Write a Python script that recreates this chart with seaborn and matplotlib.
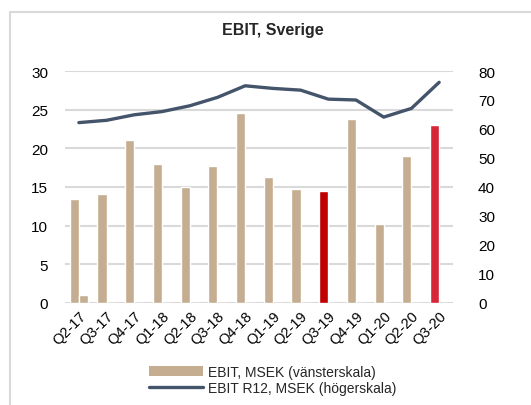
import numpy as np
import pandas as pd
import seaborn as sns
import matplotlib
matplotlib.use("Agg")
import matplotlib.pyplot as plt
from matplotlib.patches import Rectangle, Patch
from matplotlib.lines import Line2D

quarters = ["Q2-17", "Q3-17", "Q4-17", "Q1-18", "Q2-18", "Q3-18", "Q4-18",
            "Q1-19", "Q2-19", "Q3-19", "Q4-19", "Q1-20", "Q2-20", "Q3-20"]
ebit = [13.5, 14.1, 21.1, 18.0, 15.0, 17.7, 24.6, 16.3, 14.8, 14.5, 23.8, 10.2, 19.0, 23.0]
extra = [1.0, 0, 0, 0, 0, 0, 0, 0, 0, 0, 0, 0, 0, 0]
ebit_r12 = [62.2, 63.0, 64.9, 66.0, 68.0, 70.9, 74.9, 74.0, 73.4, 70.3, 70.0, 64.1, 67.1, 76.1]
left_ticks = [0, 5, 10, 15, 20, 25, 30]
right_ticks = [0, 10, 20, 30, 40, 50, 60, 70, 80]

TAN = "#C4AD91"
DARKRED = "#C00000"
RED = "#D72638"
LINE = "#44546A"
GRID = "#D9D9D9"

sns.set_theme(style="white")
plt.rcParams['font.family'] = ['Liberation Sans', 'DejaVu Sans']

fig = plt.figure(figsize=(5.31, 4.06), dpi=100)
ax = fig.add_axes([65/531, 1-304/406, (453-65)/531, (304-72)/406])

df = pd.DataFrame({
    "quarter": quarters * 2,
    "value": ebit + extra,
    "series": ["EBIT"] * len(quarters) + ["extra"] * len(quarters),
})
sns.barplot(data=df, x="quarter", y="value", hue="series", order=quarters,
            palette=[TAN, TAN], width=0.66, dodge=True, ax=ax, legend=False,
            saturation=1)
for i, p in enumerate(ax.containers[0]):
    if quarters[i] == "Q3-19":
        p.set_facecolor(DARKRED)
    elif quarters[i] == "Q3-20":
        p.set_facecolor(RED)

ax.set_ylim(0, 30)
ax.set_yticks(left_ticks)
ax.set_xlim(-0.5, len(quarters) - 0.5)
ax.yaxis.grid(True, color=GRID, linewidth=1.5)
ax.set_axisbelow(True)
for s in ax.spines.values():
    s.set_visible(False)
ax.axhline(0, color=GRID, linewidth=2, zorder=0.5)
ax.set_xlabel("")
ax.set_ylabel("")
ax.tick_params(axis="y", length=0, pad=12, labelsize=11, colors="black")
ax.tick_params(axis="x", length=0, pad=4, labelsize=10.5, colors="black")
plt.setp(ax.get_xticklabels(), rotation=45, ha="right", rotation_mode="anchor")

ax2 = ax.twinx()
sns.lineplot(x=np.arange(len(quarters)), y=ebit_r12, ax=ax2, color=LINE,
             linewidth=2.4, sort=False)
ax2.set_ylim(0, 80)
ax2.set_yticks(right_ticks)
ax2.set_xlim(-0.5, len(quarters) - 0.5)
for s in ax2.spines.values():
    s.set_visible(False)
ax2.tick_params(axis="y", length=0, pad=18, labelsize=11, colors="black")
ax2.grid(False)

fig.text(273/531, 1-30/406, "EBIT, Sverige", ha="center", va="center",
         fontsize=11.5, fontweight="bold")

handles = [Patch(facecolor=TAN, edgecolor="none"),
           Line2D([0], [0], color=LINE, linewidth=2.4)]
fig.legend(handles, ["EBIT, MSEK (vänsterskala)", "EBIT R12, MSEK (högerskala)"],
           loc="center", bbox_to_anchor=(273/531, 1-381/406), frameon=False,
           fontsize=10, handlelength=3.9, handleheight=0.7, labelspacing=0.15,
           handletextpad=0.35, borderpad=0)

fig.patches.append(Rectangle((10/531, -0.2), 1.2, 1.2 - 13/406 + 0.0,
                             transform=fig.transFigure, fill=False,
                             edgecolor=GRID, linewidth=1.5))

fig.savefig("out.png", dpi=100, facecolor="white")
